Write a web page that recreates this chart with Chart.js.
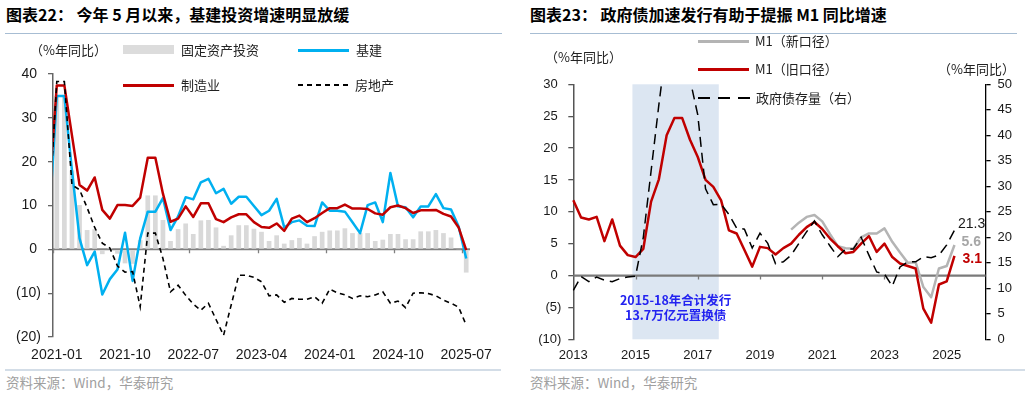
<!DOCTYPE html>
<html lang="zh-CN">
<head>
<meta charset="utf-8">
<script src="https://cdn.jsdelivr.net/npm/chart.js@4.4.1/dist/chart.umd.min.js"></script>
<style>
  html, body { margin: 0; padding: 0; background: #fff; }
  #page { position: relative; width: 1030px; height: 393px; overflow: hidden;
    font-family: "Noto Sans CJK SC", "Liberation Sans", sans-serif; color: #222; }
  .wrap { position: absolute; top: 40px; width: 515px; height: 325px; }
  .title { position: absolute; top: 3px; font-size: 16px; font-weight: bold; line-height: 22px; color: #000; white-space: nowrap; }
  .rule { position: absolute; top: 32.5px; height: 1.5px; background: #a7bdd3; }
  .foot-rule { position: absolute; top: 369px; height: 2px; background: #d3dde7; }
  .source { position: absolute; top: 372px; font-size: 13.5px; line-height: 20px; color: #a0a0a0; white-space: nowrap; }
  .lg { position: absolute; font-size: 13px; line-height: 18px; white-space: nowrap; color: #222; z-index: 2; }
  .sw { position: absolute; z-index: 2; }
</style>
</head>
<body>
<div id="page">
  <div class="title" style="left:6px">图表22：&nbsp;今年 5 月以来，基建投资增速明显放缓</div>
  <div class="rule" style="left:5px;width:497px"></div>
  <div class="title" style="left:530px">图表23：&nbsp;政府债加速发行有助于提振 M1 同比增速</div>
  <div class="rule" style="left:530px;width:487px"></div>

  <div class="wrap" style="left:0"><canvas id="c1" width="515" height="325"></canvas></div>
  <div class="wrap" style="left:515px"><canvas id="c2" width="515" height="325"></canvas></div>

  <!-- legend, chart 22 -->
  <div class="lg" style="left:30px;top:41px">（%年同比）</div>
  <div class="sw" style="left:123px;top:45px;width:51px;height:9px;background:#dcdcdc"></div>
  <div class="lg" style="left:181px;top:41px">固定资产投资</div>
  <div class="sw" style="left:298px;top:48.5px;width:51px;height:3px;background:#00b0f0"></div>
  <div class="lg" style="left:356px;top:41px">基建</div>
  <div class="sw" style="left:123px;top:83.5px;width:51px;height:3px;background:#c00000"></div>
  <div class="lg" style="left:181px;top:76px">制造业</div>
  <div class="sw" style="left:298px;top:84px;width:50px;height:1.8px;background:repeating-linear-gradient(90deg,#000 0 5px,transparent 5px 9px)"></div>
  <div class="lg" style="left:355px;top:76px">房地产</div>

  <!-- legend, chart 23 -->
  <div class="lg" style="left:545px;top:48px">（%年同比）</div>
  <div class="sw" style="left:698px;top:39.5px;width:51px;height:3px;background:#b4b4b4"></div>
  <div class="lg" style="left:755px;top:32px">M1（新口径）</div>
  <div class="sw" style="left:698px;top:67.5px;width:51px;height:3px;background:#c00000"></div>
  <div class="lg" style="left:755px;top:60px">M1（旧口径）</div>
  <div class="sw" style="left:698px;top:97px;width:52px;height:1.8px;background:repeating-linear-gradient(90deg,#000 0 12px,transparent 12px 20px)"></div>
  <div class="lg" style="left:756px;top:89px">政府债存量（右）</div>
  <div class="lg" style="left:938px;top:60px">（%年同比）</div>

  <div class="foot-rule" style="left:5px;width:496px"></div>
  <div class="source" style="left:6px">资料来源：Wind，华泰研究</div>
  <div class="foot-rule" style="left:530px;width:495px"></div>
  <div class="source" style="left:530px">资料来源：Wind，华泰研究</div>
</div>

<script>
// 图表22: monthly, 2020-12 … 2025-07 (2020-12 only feeds the clipped first segment)
const months = ["2020-12"];
for (let y = 2021; y <= 2025; y++)
  for (let m = 1; m <= 12; m++)
    if (y < 2025 || m <= 7) months.push(`${y}-${String(m).padStart(2, "0")}`);

const fai = [null,
  35, 35, 18, 10.1, 4.4, 4.6, -1.1, 0.3, -1.0, -3.2,
  -3.3, 2.1, 12.3, 12.3, 6.7, 1.9, 4.6, 5.9, 3.5, 6.6,
  6.7, 5.0, 0.8, 3.2, 5.5, 5.5, 4.7, 4.0, 1.9, 3.2,
  1.3, 2.1, 2.6, 1.3, 3.0, 4.0, 4.3, 4.3, 4.8, 3.7,
  3.7, 3.7, 1.9, 2.2, 3.5, 3.5, 2.3, 2.3, 4.1, 4.1,
  4.4, 3.7, 2.7, -0.1, -5.3];
const infra = [6.7,
  35.0, 35.0, 18.0, 2.5, -3.6, -0.5, -10.3, -6.8, -4.6, 3.8,
  -7.2, 2.5, 8.6, 8.6, 11.7, 4.4, 7.5, 11.9, 11.4, 15.3,
  16.1, 12.8, 13.8, 10.4, 12.0, 12.0, 9.9, 7.8, 8.8, 11.5,
  5.0, 6.2, 6.6, 5.4, 5.3, 10.7, 8.8, 8.8, 8.6, 6.2,
  3.7, 10.1, 10.7, 6.2, 17.4, 9.8, 9.6, 7.3, 9.8, 9.8,
  12.6, 9.4, 9.1, 5.2, -2.1];
const mfg = [13,
  37.4, 37.4, 26, 14.7, 13.4, 16.4, 9.0, 7.0, 10.1, 10.1,
  9.9, 11.8, 20.9, 20.9, 12.7, 6.3, 7.0, 9.8, 7.4, 10.5,
  10.5, 6.9, 6.2, 7.3, 8.0, 8.0, 6.2, 5.1, 4.9, 5.9,
  4.2, 7.0, 7.7, 6.2, 7.1, 8.3, 9.4, 9.4, 10.2, 9.3,
  9.3, 9.2, 8.2, 7.9, 9.6, 10.0, 9.4, 8.3, 8.9, 8.9,
  9.0, 8.1, 7.5, 5.0, -0.2];
const realEstate = [9,
  38.3, 38.3, 14.7, 13.6, 9.5, 5.0, 1.4, 0.3, -3.8, -5.2,
  -5.1, -13.1, 3.7, 3.7, -2.1, -9.7, -8.2, -10.5, -12.5, -13.9,
  -12.3, -16.0, -19.6, -12.7, -5.9, -5.9, -6.4, -7.4, -10.6, -10.4,
  -12.1, -11.2, -11.4, -11.4, -10.8, -12.3, -9.1, -9.9, -10.4, -11.2,
  -10.6, -10.8, -10.4, -9.7, -12.3, -11.8, -13.3, -10.0, -9.9, -10.1,
  -10.6, -11.6, -12.3, -13.2, -17.3];

// 图表23: quarterly, 2013Q1 … 2026Q2 (axis), data to index 49
const quarters = [];
for (let y = 2013; quarters.length < 54; y++)
  for (let q = 1; q <= 4 && quarters.length < 54; q++) quarters.push(`${y}Q${q}`);

const m1Old = [
  11.8, 9.1, 8.8, 9.2, 5.4, 8.8, 4.7, 3.2, 2.9, 4.2,
  11.6, 15.1, 22.0, 24.7, 24.7, 21.3, 18.6, 15.0, 13.9, 11.8,
  7.1, 6.6, 4.0, 1.4, 4.5, 4.3, 3.3, 4.3, 5.0, 6.4,
  7.6, 8.4, 7.3, 5.8, 4.6, 3.5, 3.7, 5.0, 6.2, 3.7,
  5.0, 2.9, 1.9, 1.5, 1.1, -5.2, -7.4, -1.4, -0.9, 3.1];
const m1New = [
  null, null, null, null, null, null, null, null, null, null,
  null, null, null, null, null, null, null, null, null, null,
  null, null, null, null, null, null, null, null, 7.2, 8.3,
  9.2, 9.5, 8.5, 6.5, 4.6, 4.3, 4.2, 6.0, 6.6, 6.6,
  7.4, 5.3, 3.6, 2.0, 2.1, -1.8, -3.4, 1.1, 1.5, 4.8];
const govDebt = [
  9.6, 12.3, 11.3, 12.2, 11.6, 11.3, 11.9, 12.2, 12.4, 20,
  33, 46, 58, 62, 57, 51, 44, 29.5, 26.4, 26.5,
  24.5, 21.8, 21.6, 17.9, 20.8, 18.8, 14.8, 15.2, 16.5, 18.8,
  21.1, 23.2, 20.5, 18.3, 16.2, 17.7, 17.7, 20.0, 16.5, 13.2,
  12.8, 10.4, 14.2, 15.2, 15.2, 16.2, 16.0, 16.5, 18.5, 21.4];

const swapBand = { from: 7.6, to: 18.7 };  // 2015-18 置换债 period, in quarter index

Chart.defaults.font.family = '"Liberation Sans", Arial, sans-serif';
Chart.defaults.color = "#1a1a1a";

const paren = (v) => (v < 0 ? `(${-v})` : `${v} `);

const bandPlugin = {
  id: "band",
  beforeDatasetsDraw(chart, args, opts) {
    if (!opts.from && opts.from !== 0) return;
    const { ctx, chartArea, scales } = chart;
    const x1 = scales.x.getPixelForValue(opts.from);
    const x2 = scales.x.getPixelForValue(opts.to);
    ctx.save();
    ctx.fillStyle = opts.color;
    ctx.fillRect(x1, chartArea.top, x2 - x1, chartArea.bottom - chartArea.top);
    ctx.restore();
  },
};

const zeroAxis = {
  id: "zeroAxis",
  beforeDatasetsDraw(chart, args, opts) {
    const { ctx, chartArea, scales } = chart;
    const y0 = scales.y.getPixelForValue(0);
    ctx.save();
    ctx.strokeStyle = opts.color;
    ctx.lineWidth = opts.width;
    ctx.beginPath();
    ctx.moveTo(chartArea.left, y0);
    ctx.lineTo(chartArea.right, y0);
    ctx.stroke();
    ctx.lineWidth = 1.3;
    ctx.beginPath();
    scales.x.ticks.forEach((t) => {
      if (!opts.tickAt(t.value)) return;
      const px = Math.round(scales.x.getPixelForValue(t.value + opts.shift)) + 0.5;
      ctx.moveTo(px, y0);
      ctx.lineTo(px, y0 + opts.len);
    });
    ctx.stroke();
    ctx.restore();
  },
};

const textPlugin = {
  id: "texts",
  afterDatasetsDraw(chart, args, opts) {
    const { ctx, scales } = chart;
    ctx.save();
    ctx.textBaseline = "middle";
    (opts.ends || []).forEach((e) => {
      const meta = chart.getDatasetMeta(e.ds);
      const pt = meta.data[meta.data.length - 1];
      ctx.font = `${e.bold ? "bold " : ""}${e.size}px "Liberation Sans", Arial`;
      ctx.fillStyle = e.color;
      ctx.textAlign = "left";
      ctx.fillText(e.text, pt.x + e.dx, pt.y + e.dy);
    });
    (opts.notes || []).forEach((n) => {
      ctx.font = `bold ${n.size}px "Noto Sans CJK SC", "Liberation Sans"`;
      ctx.fillStyle = n.color;
      ctx.textAlign = "center";
      ctx.fillText(n.text, scales.x.getPixelForValue(n.x), scales.y.getPixelForValue(n.y));
    });
    ctx.restore();
  },
};

// ---------- 图表22 ----------
new Chart(document.getElementById("c1"), {
  type: "bar",
  data: {
    labels: months,
    datasets: [
      { label: "固定资产投资", data: fai, backgroundColor: "#d9d9d9",
        barPercentage: 0.62, categoryPercentage: 1, order: 4 },
      { type: "line", label: "基建", data: infra, borderColor: "#00b0f0",
        borderWidth: 2.5, pointRadius: 0, borderJoinStyle: "round", order: 3 },
      { type: "line", label: "制造业", data: mfg, borderColor: "#c00000",
        borderWidth: 2.5, pointRadius: 0, borderJoinStyle: "round", order: 2 },
      { type: "line", label: "房地产", data: realEstate, borderColor: "#000",
        borderWidth: 1.6, borderDash: [5, 4], pointRadius: 0, order: 1 },
    ],
  },
  plugins: [zeroAxis],
  options: {
    responsive: false,
    animation: false,
    layout: { padding: { top: 34, right: 45, bottom: 0, left: 0 } },
    plugins: {
      legend: { display: false },
      tooltip: { enabled: false },
      zeroAxis: { color: "#808080", width: 2, len: 4, shift: -0.5,
        tickAt: (v) => (v - 1) % 9 === 0 },
    },
    scales: {
      x: {
        type: "category",
        min: "2021-01",
        offset: true,
        grid: { display: false, drawTicks: false },
        border: { display: false },
        ticks: { autoSkip: false, maxRotation: 0, padding: 10, font: { size: 14 },
          callback: (v) => ((v - 1) % 9 === 0 ? months[v] : "") },
        afterFit: (s) => { s.height = 28; },
      },
      y: {
        min: -20, max: 40,
        ticks: { stepSize: 10, padding: 7, font: { size: 14 }, callback: paren },
        grid: { drawOnChartArea: false, drawTicks: true, tickLength: 5, color: "#666", lineWidth: 1.3 },
        border: { color: "#666", width: 1.5 },
        afterFit: (s) => { s.width = 53; },
      },
    },
  },
});

// ---------- 图表23 ----------
new Chart(document.getElementById("c2"), {
  type: "line",
  data: {
    labels: quarters,
    datasets: [
      { label: "M1（新口径）", data: m1New, borderColor: "#b4b4b4", borderWidth: 2.5,
        pointRadius: 0, borderJoinStyle: "round", yAxisID: "y", order: 3 },
      { label: "M1（旧口径）", data: m1Old, borderColor: "#c00000", borderWidth: 2.5,
        pointRadius: 0, borderJoinStyle: "round", yAxisID: "y", order: 2 },
      { label: "政府债存量（右）", data: govDebt, borderColor: "#000", borderWidth: 1.5,
        borderDash: [10, 6], pointRadius: 0, yAxisID: "y2", order: 1 },
    ],
  },
  plugins: [bandPlugin, zeroAxis, textPlugin],
  options: {
    responsive: false,
    animation: false,
    layout: { padding: { top: 44.3, right: 0, bottom: 0, left: 0 } },
    plugins: {
      legend: { display: false },
      tooltip: { enabled: false },
      band: { from: swapBand.from, to: swapBand.to, color: "#dce6f2" },
      zeroAxis: { color: "#7a7a7a", width: 2.2, len: 4, shift: 0,
        tickAt: (v) => v % 8 === 0 && v > 0 },
      texts: {
        ends: [
          { ds: 2, text: "21.3", color: "#1a1a1a", size: 14, bold: false, dx: 3.5, dy: -6 },
          { ds: 0, text: "5.6", color: "#a6a6a6", size: 14, bold: true, dx: 7, dy: -3 },
          { ds: 1, text: "3.1", color: "#c00000", size: 14, bold: true, dx: 8, dy: 3.5 },
        ],
        notes: [
          { text: "2015-18年合计发行", x: (swapBand.from + swapBand.to) / 2, y: -3.9, size: 12.5, color: "#2323f0" },
          { text: "13.7万亿元置换债", x: (swapBand.from + swapBand.to) / 2, y: -6.3, size: 12.5, color: "#2323f0" },
        ],
      },
    },
    scales: {
      x: {
        type: "category",
        offset: false,
        grid: { display: false, drawTicks: false },
        border: { display: false },
        ticks: { autoSkip: false, maxRotation: 0, padding: 8, font: { size: 13 },
          callback: (v) => (v % 8 === 0 ? quarters[v].slice(0, 4) : "") },
        afterFit: (s) => { s.height = 25.7; },
      },
      y: {
        position: "left",
        min: -10, max: 30,
        ticks: { stepSize: 5, padding: 7, font: { size: 13 }, callback: paren },
        grid: { drawOnChartArea: false, drawTicks: true, tickLength: 5, color: "#555", lineWidth: 1.3 },
        border: { color: "#555", width: 1.5 },
        afterFit: (s) => { s.width = 58.3; },
      },
      y2: {
        position: "right",
        min: 0, max: 50,
        ticks: { stepSize: 5, padding: 7, font: { size: 13 } },
        grid: { drawOnChartArea: false, drawTicks: true, tickLength: 5, color: "#000", lineWidth: 1.3 },
        border: { color: "#000", width: 1.3 },
        afterFit: (s) => { s.width = 44.4; },
      },
    },
  },
});
</script>
</body>
</html>
